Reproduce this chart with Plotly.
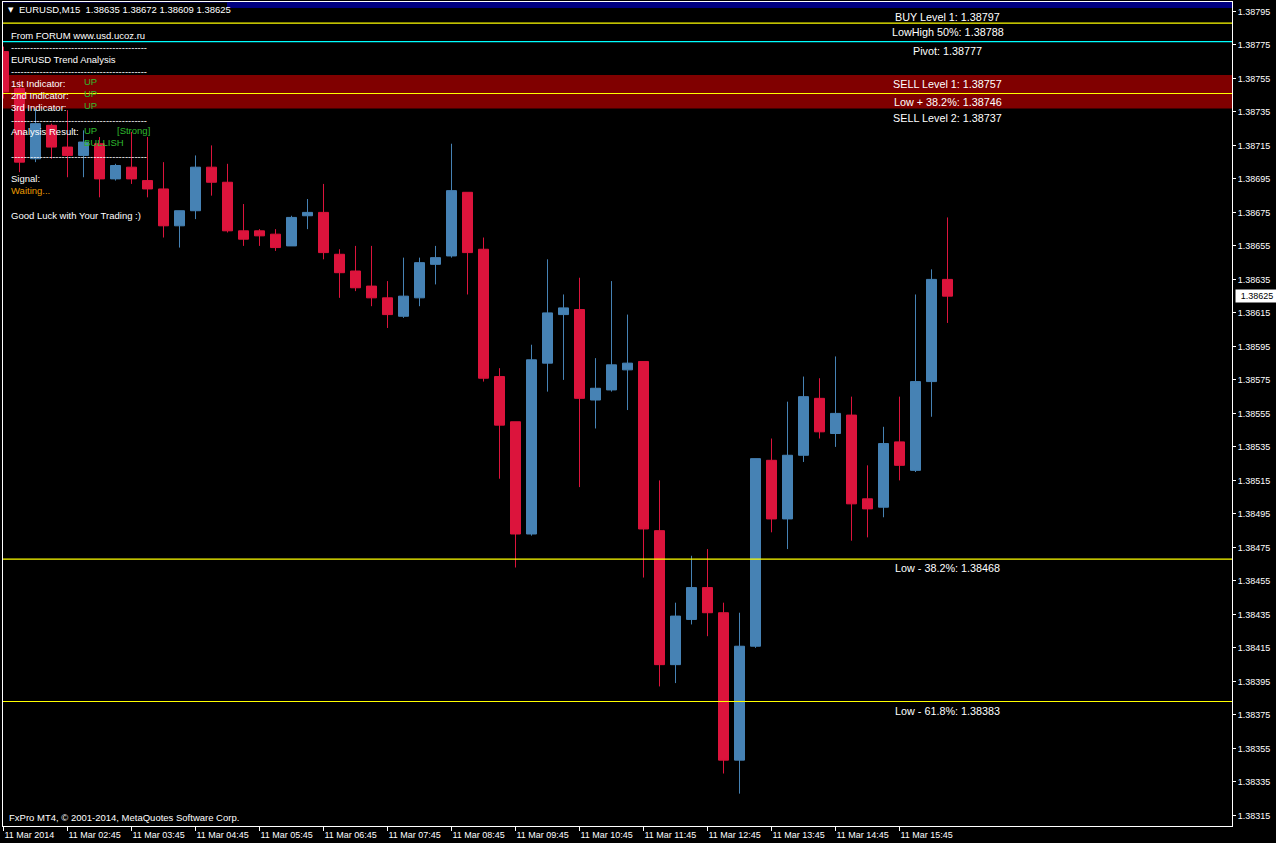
import plotly.graph_objects as go

# ---------------- data ----------------
bar_index = list(range(60))  # 15-minute bars, 11 Mar 2014 01:45 .. 16:30
opens = [1.38771, 1.38749, 1.38707, 1.38727, 1.38714, 1.38709, 1.38716, 1.38695, 1.38702, 1.38694,
         1.38689, 1.38667, 1.38676, 1.38702, 1.38693, 1.38664, 1.38664, 1.38662, 1.38655, 1.38673,
         1.38675, 1.38650, 1.38640, 1.38631, 1.38624, 1.38613, 1.38624, 1.38644, 1.38649, 1.38687,
         1.38653, 1.38577, 1.38550, 1.38483, 1.38585, 1.38614, 1.38617, 1.38563, 1.38569, 1.38581,
         1.38586, 1.38485, 1.38405, 1.38432, 1.38451, 1.38436, 1.38348, 1.38416, 1.38527, 1.38492,
         1.38530, 1.38564, 1.38543, 1.38554, 1.38504, 1.38499, 1.38538, 1.38521, 1.38574, 1.38635]
highs = [1.38774, 1.38754, 1.38737, 1.38728, 1.38736, 1.38724, 1.38720, 1.38704, 1.38723, 1.38720,
         1.38705, 1.38676, 1.38709, 1.38715, 1.38704, 1.38680, 1.38665, 1.38665, 1.38673, 1.38683,
         1.38692, 1.38653, 1.38655, 1.38655, 1.38634, 1.38648, 1.38648, 1.38655, 1.38716, 1.38687,
         1.38660, 1.38582, 1.38550, 1.38596, 1.38647, 1.38626, 1.38636, 1.38588, 1.38634, 1.38614,
         1.38586, 1.38515, 1.38442, 1.38470, 1.38474, 1.38442, 1.38436, 1.38528, 1.38540, 1.38562,
         1.38577, 1.38576, 1.38589, 1.38565, 1.38524, 1.38547, 1.38565, 1.38626, 1.38641, 1.38672]
lows = [1.38743, 1.38699, 1.38705, 1.38707, 1.38696, 1.38696, 1.38684, 1.38694, 1.38692, 1.38684,
        1.38660, 1.38654, 1.38671, 1.38685, 1.38663, 1.38655, 1.38655, 1.38652, 1.38655, 1.38665,
        1.38647, 1.38624, 1.38628, 1.38619, 1.38606, 1.38612, 1.38619, 1.38632, 1.38648, 1.38626,
        1.38574, 1.38516, 1.38463, 1.38482, 1.38568, 1.38575, 1.38511, 1.38546, 1.38568, 1.38557,
        1.38457, 1.38392, 1.38394, 1.38429, 1.38422, 1.38340, 1.38328, 1.38415, 1.38484, 1.38474,
        1.38526, 1.38540, 1.38535, 1.38479, 1.38481, 1.38493, 1.38515, 1.38520, 1.38553, 1.38609]
closes = [1.38747, 1.38705, 1.38728, 1.38714, 1.38709, 1.38717, 1.38695, 1.38703, 1.38695, 1.38689,
          1.38667, 1.38676, 1.38702, 1.38693, 1.38664, 1.38659, 1.38661, 1.38654, 1.38672, 1.38675,
          1.38651, 1.38639, 1.38630, 1.38624, 1.38614, 1.38625, 1.38645, 1.38648, 1.38688, 1.38651,
          1.38576, 1.38548, 1.38483, 1.38587, 1.38615, 1.38618, 1.38564, 1.38570, 1.38584, 1.38585,
          1.38486, 1.38405, 1.38434, 1.38451, 1.38436, 1.38348, 1.38416, 1.38528, 1.38492, 1.38530,
          1.38565, 1.38544, 1.38555, 1.38501, 1.38498, 1.38537, 1.38524, 1.38574, 1.38635, 1.38625]

x_tick_index = [0, 4, 8, 12, 16, 20, 24, 28, 32, 36, 40, 44, 48, 52, 56]
x_tick_labels = ["11 Mar 2014", "11 Mar 02:45", "11 Mar 03:45", "11 Mar 04:45", "11 Mar 05:45",
                 "11 Mar 06:45", "11 Mar 07:45", "11 Mar 08:45", "11 Mar 09:45", "11 Mar 10:45",
                 "11 Mar 11:45", "11 Mar 12:45", "11 Mar 13:45", "11 Mar 14:45", "11 Mar 15:45"]
y_tick_labels = ["1.38795", "1.38775", "1.38755", "1.38735", "1.38715", "1.38695", "1.38675",
                 "1.38655", "1.38635", "1.38615", "1.38595", "1.38575", "1.38555", "1.38535",
                 "1.38515", "1.38495", "1.38475", "1.38455", "1.38435", "1.38415", "1.38395",
                 "1.38375", "1.38355", "1.38335", "1.38315"]

level_names = ["BUY Level 1", "LowHigh 50%", "Pivot", "SELL Level 1", "Low + 38.2%",
               "SELL Level 2", "Low - 38.2%", "Low - 61.8%"]
level_values = [1.38797, 1.38788, 1.38777, 1.38757, 1.38746, 1.38737, 1.38468, 1.38383]

symbol_title = "EURUSD,M15  1.38635 1.38672 1.38609 1.38625"
current_price = 1.38625

panel_rows = [  # (text, colour, x px, y px)
    ("From FORUM www.usd.ucoz.ru", "white", 10, 35),
    ("-" * 43, "white", 10, 48),
    ("EURUSD Trend Analysis", "white", 10, 59),
    ("-" * 43, "white", 10, 72),
    ("1st Indicator:", "white", 10, 84),
    ("UP", "#2EB82E", 83, 82),
    ("2nd Indicator:", "white", 10, 96),
    ("UP", "#2EB82E", 83, 94),
    ("3rd Indicator:", "white", 10, 107),
    ("UP", "#2EB82E", 83, 105),
    ("-" * 43, "white", 10, 120),
    ("Analysis Result:", "white", 10, 131),
    ("UP", "#2EB82E", 83, 130),
    ("[Strong]", "#2EB82E", 116, 130),
    ("BULLISH", "#2EB82E", 83, 142),
    ("-" * 43, "white", 10, 156),
    ("Signal:", "white", 10, 179),
    ("Waiting...", "#E89A00", 10, 190),
    ("Good Luck with Your Trading :)", "white", 10, 215),
    ("FxPro MT4, \u00a9 2001-2014, MetaQuotes Software Corp.", "white", 8, 817),
]

# ---------------- layout geometry ----------------
W, H = 1276, 843
PL, PR, PT, PB = 3, 44, 2, 17
plot_w = W - PL - PR
plot_h = H - PT - PB
BAR_PX = 16.0
x_left = -0.5 / BAR_PX
x_right = x_left + plot_w / BAR_PX
PX_PER_PRICE = 167500.0
y_top = 1.38795 + (11.4 - PT) / PX_PER_PRICE
y_bottom = y_top - plot_h / PX_PER_PRICE

FONT = "Liberation Sans, Arial, sans-serif"


def px_x(px):
    return (px - PL) / plot_w


def px_y(py):
    return (H - PB - py) / plot_h


fig = go.Figure()
fig.add_trace(go.Candlestick(
    x=bar_index, open=opens, high=highs, low=lows, close=closes,
    increasing=dict(line=dict(color="#4682B4", width=1), fillcolor="#4682B4"),
    decreasing=dict(line=dict(color="#DC143C", width=1), fillcolor="#DC143C"),
    whiskerwidth=0, hoverinfo="skip", showlegend=False,
))

shapes = []
# BUY zone (navy) and SELL zone (maroon)
shapes.append(dict(type="rect", xref="paper", x0=0, x1=1, yref="y",
                   y0=level_values[0], y1=y_top + 0.0002, fillcolor="#000080",
                   line=dict(width=0), layer="below"))
shapes.append(dict(type="rect", xref="paper", x0=0, x1=1, yref="y",
                   y0=level_values[5], y1=level_values[3], fillcolor="#800000",
                   line=dict(width=0), layer="below"))
line_colors = {1: "#FFFF00", 2: "#00FFFF", 4: "#FFFF00", 6: "#FFFF00", 7: "#FFFF00"}
for k, col in line_colors.items():
    shapes.append(dict(type="line", xref="paper", x0=0, x1=1, yref="y",
                       y0=level_values[k], y1=level_values[k],
                       line=dict(color=col, width=1.2), layer="above"))
# black box behind symbol title
shapes.append(dict(type="rect", xref="paper", yref="paper",
                   x0=px_x(3), x1=px_x(227), y0=px_y(17), y1=px_y(2.5),
                   fillcolor="black", line=dict(width=0), layer="above"))

annotations = []
for name, val in zip(level_names, level_values):
    annotations.append(dict(x=59, y=val, xref="x", yref="y", xanchor="center", yanchor="top",
                            text=f"{name}: {val:.5f}", showarrow=False,
                            font=dict(family=FONT, size=10.8, color="white"), yshift=-1))
for txt, col, xp, yp in panel_rows:
    annotations.append(dict(x=px_x(xp - 1), y=px_y(yp), xref="paper", yref="paper",
                            xanchor="left", yanchor="middle", text=txt, showarrow=False,
                            font=dict(family=FONT, size=9.5, color=col)))
annotations.append(dict(x=px_x(6), y=px_y(10), xref="paper", yref="paper", xanchor="left",
                        yanchor="middle", text="\u25BC", showarrow=False,
                        font=dict(family="DejaVu Sans", size=7, color="white")))
annotations.append(dict(x=px_x(17), y=px_y(10), xref="paper", yref="paper", xanchor="left",
                        yanchor="middle", text=symbol_title, showarrow=False,
                        font=dict(family=FONT, size=9.5, color="white")))
annotations.append(dict(x=1, y=current_price, xref="paper", yref="y", xanchor="left",
                        yanchor="middle", xshift=3, text=f"{current_price:.5f}", showarrow=False,
                        bgcolor="white", width=40, height=10, borderpad=1,
                        font=dict(family=FONT, size=9, color="black")))

fig.update_layout(
    width=W, height=H,
    margin=dict(l=PL, r=PR, t=PT, b=PB),
    paper_bgcolor="black", plot_bgcolor="black",
    boxgap=0.375, boxgroupgap=0,
    showlegend=False,
    shapes=shapes, annotations=annotations,
    xaxis=dict(range=[x_left, x_right], showgrid=False, zeroline=False,
               showline=True, linecolor="white", linewidth=1, mirror=True,
               ticks="outside", ticklen=4, tickcolor="white",
               tickvals=x_tick_index, ticktext=x_tick_labels,
               ticklabelposition="outside right",
               tickfont=dict(family=FONT, size=9, color="white"),
               rangeslider=dict(visible=False), fixedrange=True),
    yaxis=dict(range=[y_bottom, y_top], side="right", showgrid=False, zeroline=False,
               showline=True, linecolor="white", linewidth=1, mirror=True,
               ticks="outside", ticklen=3, tickcolor="white",
               tickvals=[float(v) for v in y_tick_labels], ticktext=y_tick_labels,
               tickfont=dict(family=FONT, size=9, color="white"), fixedrange=True),
)

fig.write_html("out.html", config={"displayModeBar": False},
               post_script="document.body.style.margin='0';document.body.style.overflow='hidden';")
